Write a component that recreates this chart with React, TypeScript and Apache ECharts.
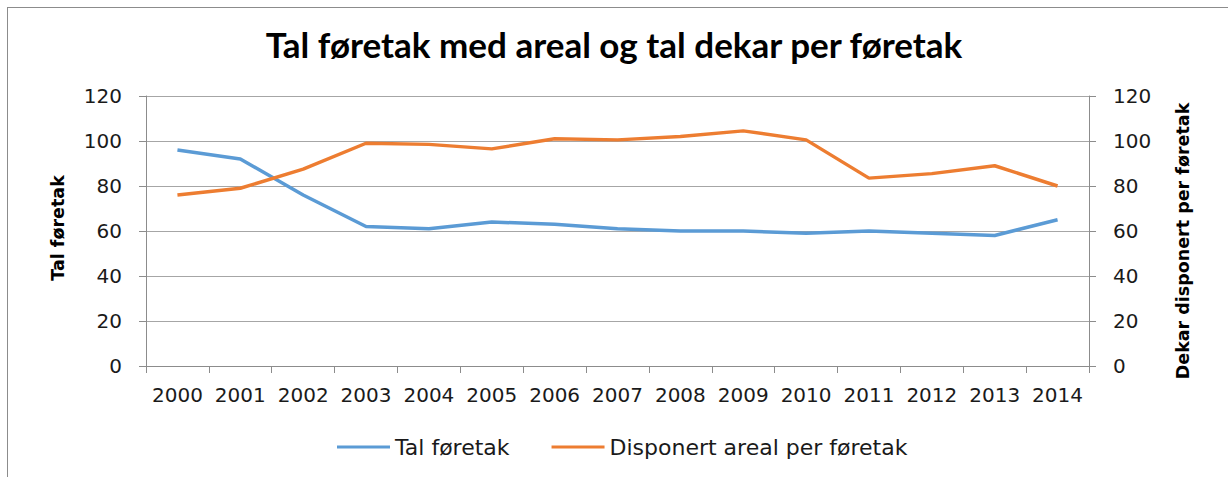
import React, { useEffect, useRef } from "react";
import * as echarts from "echarts";

const years = ["2000","2001","2002","2003","2004","2005","2006","2007","2008","2009","2010","2011","2012","2013","2014"];
const talForetak = [96, 92, 76, 62, 61, 64, 63, 61, 60, 60, 59, 60, 59, 58, 65];
const disponertAreal = [76, 79, 87.5, 99, 98.5, 96.5, 101, 100.5, 102, 104.5, 100.5, 83.5, 85.5, 89, 80];
const seriesNames = ["Tal føretak", "Disponert areal per føretak"];
const titleText = "Tal føretak med areal og tal dekar per føretak";
const leftAxisName = "Tal føretak";
const rightAxisName = "Dekar disponert per føretak";

const FONT = "DejaVu Sans";
const TITLE_FONT = "Lato";

export default function App() {
  const ref = useRef<HTMLDivElement>(null);
  useEffect(() => {
    if (!ref.current) return;
    const chart = echarts.init(ref.current, null, { renderer: "svg" });
    const yAxisBase = {
      type: "value",
      min: 0,
      max: 120,
      interval: 20,
      axisLine: { show: true, lineStyle: { color: "#8c8c8c", width: 1 } },
      axisTick: { show: true, length: 7, lineStyle: { color: "#8c8c8c" } },
      splitLine: { show: true, lineStyle: { color: "#a6a6a6", width: 1 } },
      axisLabel: { fontFamily: FONT, fontSize: 20, color: "#1a1a1a", margin: 24 },
    };
    chart.setOption({
      animation: false,
      backgroundColor: "#ffffff",
      title: {
        text: titleText,
        left: "center",
        top: 21,
        textStyle: { fontFamily: TITLE_FONT, fontSize: 35, fontWeight: "bold", color: "#000" },
      },
      legend: {
        data: seriesNames,
        top: 436,
        left: 337,
        padding: 0,
        icon: "rect",
        itemWidth: 53,
        itemHeight: 3,
        itemGap: 42,
        textStyle: { fontFamily: FONT, fontSize: 22, color: "#1a1a1a" },
      },
      grid: { left: 146, right: 139, top: 96, bottom: 111, containLabel: false },
      xAxis: {
        type: "category",
        data: years,
        boundaryGap: true,
        axisLine: { lineStyle: { color: "#8c8c8c" } },
        axisTick: { show: true, length: 7, alignWithLabel: false, lineStyle: { color: "#8c8c8c" } },
        axisLabel: { fontFamily: FONT, fontSize: 20, color: "#1a1a1a", margin: 19, interval: 0 },
      },
      yAxis: [
        { ...yAxisBase, position: "left" },
        { ...yAxisBase, position: "right", splitLine: { show: false } },
      ],
      series: [
        {
          name: seriesNames[0],
          type: "line",
          data: talForetak,
          yAxisIndex: 0,
          symbol: "none",
          lineStyle: { color: "#5b9bd5", width: 3.5 },
          itemStyle: { color: "#5b9bd5" },
        },
        {
          name: seriesNames[1],
          type: "line",
          data: disponertAreal,
          yAxisIndex: 1,
          symbol: "none",
          lineStyle: { color: "#ed7d31", width: 3.5 },
          itemStyle: { color: "#ed7d31" },
        },
      ],
      graphic: [
        { type: "line", shape: { x1: 7, y1: 7.5, x2: 1228, y2: 7.5 }, style: { stroke: "#8c8c8c", lineWidth: 1 } },
        { type: "line", shape: { x1: 7.5, y1: 7, x2: 7.5, y2: 477 }, style: { stroke: "#8c8c8c", lineWidth: 1 } },
        {
          type: "text",
          x: 58,
          y: 228,
          rotation: Math.PI / 2,
          style: { text: leftAxisName, fontFamily: FONT, fontSize: 17.5, fontWeight: "bold", fill: "#000", align: "center", verticalAlign: "middle" },
        },
        {
          type: "text",
          x: 1183,
          y: 241,
          rotation: Math.PI / 2,
          style: { text: rightAxisName, fontFamily: FONT, fontSize: 17.5, fontWeight: "bold", fill: "#000", align: "center", verticalAlign: "middle" },
        },
      ],
    });
    return () => chart.dispose();
  }, []);
  return <div ref={ref} style={{ width: 1228, height: 477, position: "absolute", left: 0, top: 0 }} />;
}
